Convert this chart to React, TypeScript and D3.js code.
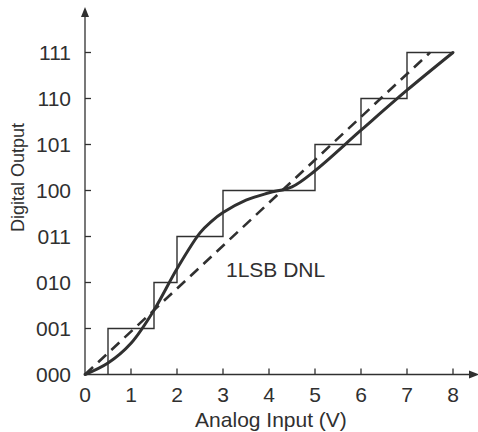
import React from "react";
import * as d3 from "d3";

const codeLabels = ["000", "001", "010", "011", "100", "101", "110", "111"];
const xTicks = [0, 1, 2, 3, 4, 5, 6, 7, 8];
// Input voltage at which the output steps up to each code 1..7
const transitionInputs = [0.5, 1.5, 2, 3, 5, 6, 7];
const stairEnd = 8;
const idealX = [0, 7.5];
const idealY = [0, 7];
const curveX = [0, 0.5, 1, 1.5, 2, 2.5, 2.75, 3, 3.5, 4, 4.5, 5, 6, 7, 8];
const curveY = [0, 0.25, 0.68, 1.4, 2.3, 3.08, 3.33, 3.52, 3.79, 3.95, 4.08, 4.43, 5.31, 6.18, 7];
const annotation = "1LSB DNL";

const W = 478;
const H = 432;
const INK = "#303030";
const FONT = "'Liberation Sans', Arial, Helvetica, sans-serif";

export default function App() {
  const x = d3.scaleLinear().domain([0, 8]).range([85, 453]);
  const y = d3.scaleLinear().domain([0, 7]).range([374.5, 52.5]);

  // staircase path
  let stair = `M${x(transitionInputs[0])},${y(0)}`;
  transitionInputs.forEach((t, i) => {
    const next = i + 1 < transitionInputs.length ? transitionInputs[i + 1] : stairEnd;
    stair += `V${y(i + 1)}H${x(next)}`;
  });

  const ideal = d3.line<number>()
    .x((d, i) => x(idealX[i]))
    .y((d, i) => y(idealY[i]))(idealX);

  const curve = d3.line<number>()
    .x((d) => x(d))
    .y((d, i) => y(curveY[i]))
    .curve(d3.curveCatmullRom.alpha(0.5))(curveX);

  const x0 = x(0);
  const y0 = y(0);

  return (
    <svg width={W} height={H} style={{ position: "absolute", left: 0, top: 0, background: "#fff" }}
      fontFamily={FONT}>
      {/* axes */}
      <line x1={x0} y1={y0} x2={x0} y2={14} stroke={INK} strokeWidth={1.3} />
      <path d={`M${x0},7L${x0 - 4},17L${x0 + 4},17Z`} fill={INK} />
      <line x1={x0} y1={y0} x2={470} y2={y0} stroke={INK} strokeWidth={1.3} />
      <path d={`M479,${y0}L469,${y0 - 4}L469,${y0 + 4}Z`} fill={INK} />

      {/* y ticks and labels */}
      {codeLabels.map((lab, i) => (
        <g key={lab}>
          {i > 0 && <line x1={x0} x2={x0 + 6} y1={y(i)} y2={y(i)} stroke={INK} strokeWidth={1.3} />}
          <text x={71} y={y(i)} dy="0.36em" textAnchor="end" fontSize={21} fill={INK}>{lab}</text>
        </g>
      ))}

      {/* x ticks and labels */}
      {xTicks.map((t) => (
        <g key={t}>
          {t > 0 && <line x1={x(t)} x2={x(t)} y1={y0} y2={y0 - 6} stroke={INK} strokeWidth={1.3} />}
          <text x={x(t)} y={401.5} textAnchor="middle" fontSize={21} fill={INK}>{t}</text>
        </g>
      ))}

      {/* axis titles */}
      <text x={271} y={426.5} textAnchor="middle" fontSize={21} fill={INK}>Analog Input (V)</text>
      <text transform={`translate(24,177.5) rotate(-90)`} textAnchor="middle" fontSize={18} fill={INK}>Digital Output</text>

      {/* staircase */}
      <path d={stair} fill="none" stroke={INK} strokeWidth={1.4} />
      {/* ideal dashed line */}
      <path d={ideal || ""} fill="none" stroke={INK} strokeWidth={2.6} strokeDasharray="11 7" />
      {/* transfer curve */}
      <path d={curve || ""} fill="none" stroke={INK} strokeWidth={3} strokeLinecap="round" />

      <text x={226} y={277} fontSize={21} fill={INK}>{annotation}</text>
    </svg>
  );
}
